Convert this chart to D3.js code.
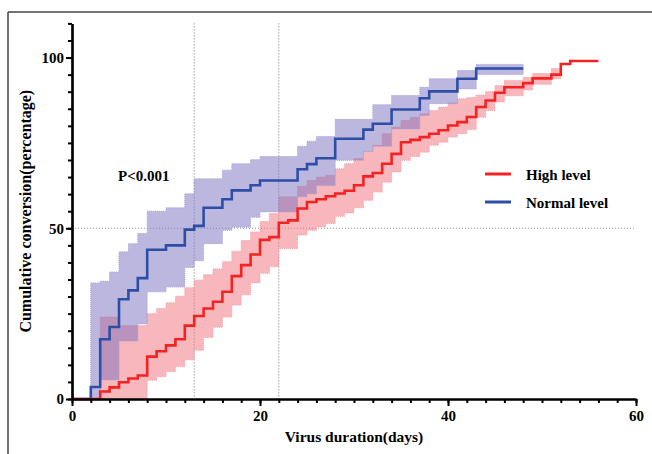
<!DOCTYPE html>
<html>
<head>
<meta charset="utf-8">
<script src="https://cdn.jsdelivr.net/npm/d3@7"></script>
<style>
  body { margin: 0; background: #fff; }
  svg { display: block; }
  text { font-family: "Liberation Serif", "Times New Roman", serif; font-weight: bold; }
</style>
</head>
<body>
<svg id="chart" width="652" height="454"></svg>
<script>
// Normal level (blue) - step times in days, cumulative conversion and 95% band
var normalTimes = [0, 2, 3, 4, 5, 6, 7, 8, 10, 12, 13, 14, 16, 17, 19, 20, 24, 25, 26, 28, 31, 32, 34, 37, 38, 41, 43, 48];
var normalValues = [0, 3.5, 17.5, 21.1, 29.2, 31.8, 35.4, 43.7, 45, 49.6, 50.7, 56, 58.5, 61.1, 62.6, 64, 67.3, 68.8, 70.5, 76.2, 78.9, 80.6, 84.8, 88.1, 90.1, 93.8, 96.8, 96.8];
var normalLower = [null, 0, 5.6, 5.6, 17, 17, 22, 31.4, 32.8, 38.5, 40.5, 45.5, 49.4, 50.3, 53.2, 54.8, 59.2, 60.1, 62.5, 69.9, 72.5, 74, 79.1, 83, 86.5, 90.8, 95, 95];
var normalUpper = [null, 34, 34.5, 37.2, 43.1, 45.5, 48.5, 55, 56, 60.1, 64.5, 64.5, 67, 68.9, 70.1, 71, 74, 75.5, 76.9, 81.9, 81.9, 86.2, 88.9, 91.3, 93.8, 96.2, 98, 98];

// High level (red)
var highTimes = [0, 3, 4, 5, 6, 7, 8, 9, 10, 11, 12, 13, 14, 15, 16, 17, 18, 19, 20, 21, 22, 23, 24, 25, 26, 27, 28, 29, 30, 31, 32, 33, 34, 35, 36, 37, 38, 39, 40, 41, 42, 43, 44, 45, 46, 48, 49, 51, 52, 53, 56];
var highValues = [0, 2.2, 3.4, 4.9, 6.0, 6.9, 12.4, 14.0, 15.7, 17.5, 21.5, 24.3, 26.5, 28.5, 31.4, 36.0, 39.2, 42.3, 46.6, 47.4, 51.6, 52.3, 55.8, 57.7, 58.5, 59.4, 60.2, 61.0, 62.6, 65.2, 66.2, 68.9, 71.8, 75.2, 75.9, 76.7, 77.7, 78.7, 80.1, 81.1, 82.6, 85.5, 87.4, 89.7, 91.3, 92.5, 93.9, 95.0, 98.1, 99.0, 99.0];
var highLower = [null, 0, 0, 0, 0, 0, 5.5, 6.5, 8, 9.5, 11.5, 14.3, 18, 21, 24, 27.5, 30.5, 34, 36.8, 38.7, 44.1, 44.1, 48, 49.4, 50.4, 51.4, 53.5, 54.5, 56, 58.2, 60.6, 63.5, 66.5, 69.9, 71, 72.3, 74.3, 75.2, 76.7, 77.7, 78.9, 82.5, 84.5, 87, 88.8, 90.5, 92.2, 93.8, null, null, null];
var highUpper = [null, 24, 24, 21.5, 21.5, 21.5, 25, 26.5, 28.2, 30.1, 32.6, 34.8, 36.4, 38.1, 40.2, 43.3, 46.4, 48.9, 52, 54.3, 59.2, 59.2, 62.3, 64, 65, 65.5, 67.4, 68.9, 70.4, 72.5, 74.3, 77.7, 79.6, 81.6, 82.5, 83.5, 84.5, 85.5, 86.7, 87.9, 88.3, 89, 90, 91.8, 93.3, 94.2, 95.3, 96.8, null, null, null];

var xTicks = [0, 20, 40, 60];
var yTicks = [0, 50, 100];
var refDays = [13, 22];

var svg = d3.select("#chart");

// frame of the original figure
svg.append("line").attr("x1", 8).attr("y1", 12).attr("x2", 652).attr("y2", 12)
  .attr("stroke", "#444").attr("stroke-width", 1.5);
svg.append("line").attr("x1", 8).attr("y1", 12).attr("x2", 8).attr("y2", 454)
  .attr("stroke", "#444").attr("stroke-width", 1.5);

var x = d3.scaleLinear().domain([0, 60]).range([72, 636]);
var y = d3.scaleLinear().domain([0, 110]).range([399, 23.4]);

// dotted reference lines
svg.selectAll(".vref").data(refDays).enter().append("line")
  .attr("x1", d => x(d)).attr("x2", d => x(d))
  .attr("y1", y(110)).attr("y2", y(0))
  .attr("stroke", "#777").attr("stroke-width", 1).attr("stroke-dasharray", "1,2");
svg.append("line")
  .attr("x1", x(0)).attr("x2", x(60)).attr("y1", y(50)).attr("y2", y(50))
  .attr("stroke", "#999").attr("stroke-width", 1).attr("stroke-dasharray", "1,2");

function bandPoints(times, lower, upper) {
  var pts = [];
  for (var i = 0; i < times.length; i++) {
    if (lower[i] != null) {
      pts.push({t: times[i], lo: lower[i], hi: upper[i]});
    } else if (pts.length > 0) {
      // close the last step at the next time
      var last = pts[pts.length - 1];
      pts.push({t: times[i], lo: last.lo, hi: last.hi});
      break;
    }
  }
  return pts;
}

var area = d3.area()
  .x(d => x(d.t))
  .y0(d => y(d.lo))
  .y1(d => y(d.hi))
  .curve(d3.curveStepAfter);

var highBand = bandPoints(highTimes, highLower, highUpper);
var normalBand = bandPoints(normalTimes, normalLower, normalUpper);

svg.append("path").datum(highBand).attr("d", area)
  .attr("fill", "#f2707a").attr("fill-opacity", 0.5)
  .attr("stroke", "#f2a0a6").attr("stroke-width", 1).attr("stroke-dasharray", "1,1");
svg.append("path").datum(normalBand).attr("d", area)
  .attr("fill", "#7a70c0").attr("fill-opacity", 0.5)
  .attr("stroke", "#a6a0d6").attr("stroke-width", 1).attr("stroke-dasharray", "1,1");

var line = d3.line()
  .x(d => x(d[0]))
  .y(d => y(d[1]))
  .curve(d3.curveStepAfter);

svg.append("path").datum(d3.zip(normalTimes, normalValues)).attr("d", line)
  .attr("fill", "none").attr("stroke", "#2e4ea6").attr("stroke-width", 2.6);
svg.append("path").datum(d3.zip(highTimes, highValues)).attr("d", line)
  .attr("fill", "none").attr("stroke", "#f52222").attr("stroke-width", 2.6);

// axes
var xMinor = svg.append("g").attr("transform", "translate(0," + y(0) + ")")
  .call(d3.axisBottom(x).tickValues(d3.range(0, 61, 2)).tickSize(4).tickSizeOuter(0).tickFormat(""));
var xAxis = svg.append("g").attr("transform", "translate(0," + y(0) + ")")
  .call(d3.axisBottom(x).tickValues(xTicks).tickSize(7).tickSizeOuter(0).tickPadding(4));
var yMinor = svg.append("g").attr("transform", "translate(" + x(0) + ",0)")
  .call(d3.axisLeft(y).tickValues(d3.range(0, 111, 5)).tickSize(4).tickSizeOuter(0).tickFormat(""));
var yAxis = svg.append("g").attr("transform", "translate(" + x(0) + ",0)")
  .call(d3.axisLeft(y).tickValues(yTicks).tickSize(6).tickSizeOuter(0).tickPadding(2));

[xMinor, xAxis, yMinor, yAxis].forEach(function(g) {
  g.select(".domain").attr("stroke", "#000").attr("stroke-width", 2.2);
  g.selectAll(".tick line").attr("stroke", "#000").attr("stroke-width", 2);
  g.selectAll(".tick text").attr("fill", "#000")
    .style("font-family", '"Liberation Serif", serif').style("font-weight", "bold").style("font-size", "15px");
});

svg.append("text").attr("x", x(30)).attr("y", 442).attr("text-anchor", "middle")
  .style("font-size", "15.5px").text("Virus duration(days)");
svg.append("text").attr("transform", "translate(31," + y(55) + ") rotate(-90)")
  .attr("text-anchor", "middle").style("font-size", "16px")
  .text("Cumulative conversion(percentage)");

svg.append("text").attr("x", 118).attr("y", 181).style("font-size", "15px").text("P<0.001");

// legend
var legendItems = [["High level", "#f52222"], ["Normal level", "#2e4ea6"]];
var lg = svg.selectAll(".leg").data(legendItems).enter().append("g")
  .attr("transform", (d, i) => "translate(485," + (174 + i * 28) + ")");
lg.append("line").attr("x1", 0).attr("x2", 26).attr("stroke", d => d[1]).attr("stroke-width", 3);
lg.append("text").attr("x", 41).attr("y", 6).style("font-size", "15px").text(d => d[0]);
</script>
</body>
</html>
